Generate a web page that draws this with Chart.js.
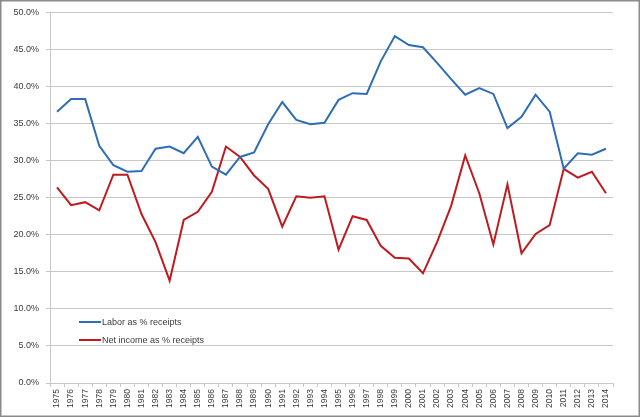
<!DOCTYPE html>
<html>
<head>
<meta charset="utf-8">
<script src="https://cdn.jsdelivr.net/npm/chart.js@4.4.0/dist/chart.umd.min.js"></script>
<style>
  html, body { margin: 0; padding: 0; background: #fff; }
  #wrap { position: relative; width: 640px; height: 417px; }
  canvas { display: block; }
</style>
</head>
<body>
<div id="wrap"><canvas id="c" width="640" height="417"></canvas></div>
<script>
const years = [];
for (let y = 1975; y <= 2014; y++) years.push(String(y));

const laborLabel = 'Labor as % receipts';
const netLabel = 'Net income as % receipts';

const laborPct = [36.6, 38.3, 38.3, 32.0, 29.4, 28.5, 28.6, 31.6, 31.9, 31.0,
                  33.2, 29.2, 28.1, 30.5, 31.1, 34.9, 37.9, 35.5, 34.9, 35.1,
                  38.2, 39.1, 39.0, 43.4, 46.8, 45.6, 45.3, 43.2, 41.0, 38.9,
                  39.8, 39.0, 34.4, 35.9, 38.9, 36.6, 28.9, 31.0, 30.8, 31.6];

const netPct = [26.4, 24.0, 24.4, 23.3, 28.1, 28.1, 22.8, 19.0, 13.8, 22.0,
                23.1, 25.8, 31.9, 30.5, 28.0, 26.2, 21.1, 25.2, 25.0, 25.2,
                18.0, 22.5, 22.0, 18.5, 16.9, 16.8, 14.8, 19.0, 23.9, 30.7,
                25.6, 18.7, 26.8, 17.5, 20.1, 21.3, 28.9, 27.7, 28.5, 25.6];

const FONT = '"Liberation Sans", Arial, sans-serif';
const GRID = '#c8c8c8';
const TEXT = '#3a3a3a';

const frame = {
  id: 'frame',
  afterDraw(chart) {
    const ctx = chart.ctx;
    ctx.save();
    ctx.strokeStyle = '#8a8a8a';
    ctx.lineWidth = 1.5;
    ctx.strokeRect(0.75, 0.75, chart.width - 1.5, chart.height - 1.5);
    ctx.restore();
  }
};

const innerLegend = {
  id: 'innerLegend',
  afterDatasetsDraw(chart) {
    const ctx = chart.ctx;
    const ys = [322, 340];
    ctx.save();
    ctx.font = '9px ' + FONT;
    ctx.textBaseline = 'middle';
    chart.data.datasets.forEach((ds, i) => {
      ctx.strokeStyle = ds.borderColor;
      ctx.lineWidth = 2;
      ctx.beginPath();
      ctx.moveTo(79, ys[i]);
      ctx.lineTo(101, ys[i]);
      ctx.stroke();
      ctx.fillStyle = TEXT;
      ctx.fillText(ds.label, 102, ys[i] + 0.5);
    });
    ctx.restore();
  }
};

new Chart(document.getElementById('c'), {
  type: 'line',
  data: {
    labels: years,
    datasets: [
      { label: laborLabel, data: laborPct, borderColor: '#2F6EB6', borderWidth: 2,
        pointRadius: 0, tension: 0, fill: false },
      { label: netLabel, data: netPct, borderColor: '#BF1B1F', borderWidth: 2,
        pointRadius: 0, tension: 0, fill: false }
    ]
  },
  options: {
    responsive: false,
    animation: false,
    events: [],
    layout: { padding: { top: 11, right: 27, bottom: 0, left: 0 } },
    plugins: { legend: { display: false }, tooltip: { enabled: false } },
    scales: {
      x: {
        type: 'category',
        offset: true,
        grid: { offset: true, drawOnChartArea: false, drawTicks: true, tickLength: 4, color: GRID },
        border: { display: true, color: GRID, width: 1 },
        ticks: { autoSkip: false, minRotation: 90, maxRotation: 90, padding: 2,
                 color: TEXT, font: { family: FONT, size: 8.5 } },
        afterFit(s) { s.height = 34; }
      },
      y: {
        min: 0, max: 50,
        ticks: { stepSize: 5, padding: 7, color: TEXT, font: { family: FONT, size: 9 },
                 callback: v => v.toFixed(1) + '%' },
        grid: { color: GRID, tickLength: 4, lineWidth: 1 },
        border: { display: true, color: GRID, width: 1 },
        afterFit(s) { s.width = 50; }
      }
    }
  },
  plugins: [frame, innerLegend]
});
</script>
</body>
</html>
